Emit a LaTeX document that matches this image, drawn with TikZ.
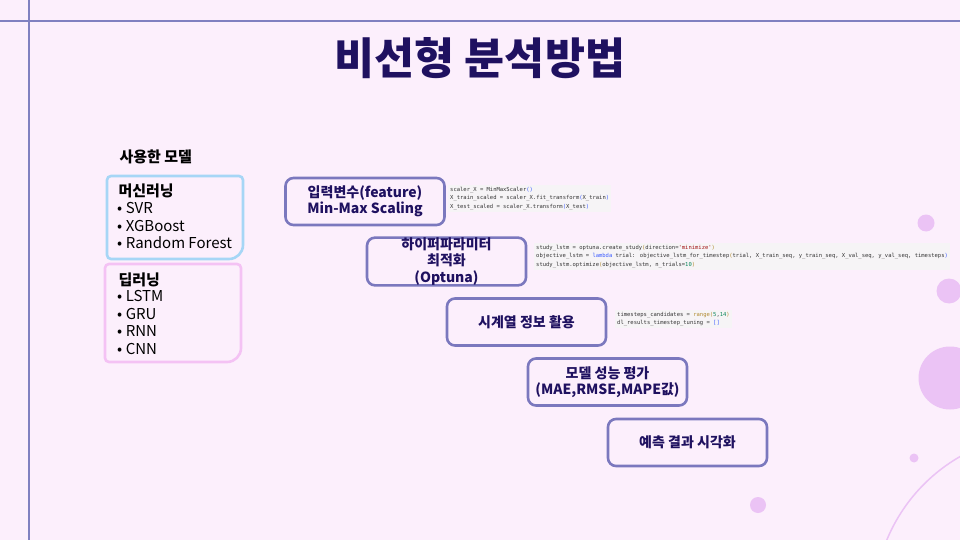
\documentclass[tikz,border=0pt]{standalone}
\usepackage{fontspec}
\setmainfont{Noto Sans CJK KR}
\newfontfamily\codefont{DejaVu Sans Mono}
\definecolor{bg}{HTML}{FCEFFC}
\definecolor{linec}{HTML}{8080C0}
\definecolor{boxc}{HTML}{7B78BE}
\definecolor{navy}{HTML}{1F1160}
\definecolor{circ}{HTML}{EBC3F5}
\definecolor{mlc}{HTML}{A6D6F6}
\definecolor{dlc}{HTML}{F4C2F4}
\definecolor{codebg}{HTML}{F6F4F6}
\definecolor{cstr}{HTML}{A31515}
\definecolor{ckw}{HTML}{3B5BFF}
\definecolor{cfn}{HTML}{B08A2E}
\definecolor{cnum}{HTML}{098658}
\newcommand{\bul}{•\hspace{3.5pt}}
\tikzset{
  procbox/.style={draw=boxc, line width=2.6pt, rounded corners=8pt, minimum width=159pt, minimum height=47pt, align=center, text=navy, font=\bfseries\fontsize{14}{16.5}\selectfont, inner sep=0pt},
  codeblk/.style={fill=codebg, anchor=north west, align=left, font=\codefont\fontsize{5.5}{8.4}\selectfont, inner xsep=2pt, inner ysep=2pt, text=black!80},
  modelbox/.style={line width=2.6pt},
  listtxt/.style={anchor=north west, align=left, font=\fontsize{15}{17.4}\selectfont, inner sep=0pt},
  headtxt/.style={anchor=west, font=\bfseries\fontsize{15}{17}\selectfont, text=black},
  circfill/.style={fill=circ, draw=none}
}
\begin{document}
\begin{tikzpicture}[x=1pt,y=-1pt]
\fill[bg] (0,0) rectangle (960,540);
\useasboundingbox (0,0) rectangle (960,540);
% frame lines
\draw[linec, line width=2pt] (0,21) -- (960,21);
\draw[linec, line width=2pt] (29,0) -- (29,540);
% decorative circles
\fill[circfill] (926,223) circle (8.5);
\fill[circfill] (949,291) circle (12.5);
\fill[circfill] (950,378) circle (31.5);
\fill[circfill] (914,458) circle (4.5);
\fill[circfill] (758,505) circle (8);
\begin{scope}
\clip (0,0) rectangle (960,540);
\draw[circ, line width=1.5pt] (1045,605) circle (171);
\end{scope}
% title
\node[text=navy, font=\bfseries\fontsize{43.5}{48}\selectfont] (title) at (480,58) {비선형 분석방법};
% models
\node[headtxt] (used) at (116,157) {사용한 모델};
\draw[mlc, modelbox] (107,180) arc[start angle=180, end angle=270, radius=4] -- (239,176) arc[start angle=270, end angle=360, radius=4] -- (243,245) arc[start angle=0, end angle=90, radius=14] -- (111,259) arc[start angle=90, end angle=180, radius=4] -- cycle;
\draw[dlc, modelbox] (105,268) arc[start angle=180, end angle=270, radius=4] -- (237,264) arc[start angle=270, end angle=360, radius=4] -- (241,348) arc[start angle=0, end angle=90, radius=14] -- (109,362) arc[start angle=90, end angle=180, radius=4] -- cycle;
\node[headtxt] (ml) at (115,191) {머신러닝};
\node[listtxt] (mllist) at (117,202.5) {\bul SVR\\\bul XGBoost\\\bul Random Forest};
\node[headtxt] (dl) at (115,280) {딥러닝};
\node[listtxt] (dllist) at (117,290.5) {\bul LSTM\\\bul GRU\\\bul RNN\\\bul CNN};
% process boxes
\node[procbox] (b1) at (365,201.5) {입력변수(feature)\\Min-Max Scaling};
\node[procbox] (b2) at (446.5,261.5) {하이퍼파라미터\\최적화\\(Optuna)};
\node[procbox] (b3) at (526.5,322) {시계열 정보 활용};
\node[procbox] (b4) at (607.5,382) {모델 성능 평가\\(MAE,RMSE,MAPE값)};
\node[procbox] (b5) at (687.5,442.5) {예측 결과 시각화};
% code snippets
\node[codeblk] (c1) at (448,185) {scaler\_X = MinMaxScaler\textcolor{ckw}{()}\\X\_train\_scaled = scaler\_X.fit\_transform\textcolor{ckw}{(}X\_train\textcolor{ckw}{)}\\X\_test\_scaled = scaler\_X.transform\textcolor{ckw}{(}X\_test\textcolor{ckw}{)}};
\node[codeblk] (c2) at (534,243) {study\_lstm = optuna.create\_study\textcolor{cfn}{(}direction=\textcolor{cstr}{'minimize'}\textcolor{cfn}{)}\\objective\_lstm = \textcolor{ckw}{lambda} trial: objective\_lstm\_for\_timestep\textcolor{cfn}{(}trial, X\_train\_seq, y\_train\_seq, X\_val\_seq, y\_val\_seq, timesteps\textcolor{ckw}{)}\\study\_lstm.optimize\textcolor{cfn}{(}objective\_lstm, n\_trials=\textcolor{cnum}{10}\textcolor{cfn}{)}};
\node[codeblk] (c3) at (615,310) {timesteps\_candidates = \textcolor{cfn}{range}\textcolor{cfn}{(}\textcolor{cnum}{5},\textcolor{cnum}{14}\textcolor{cfn}{)}\\dl\_results\_timestep\_tuning = \textcolor{ckw}{[]}};
\end{tikzpicture}
\end{document}
